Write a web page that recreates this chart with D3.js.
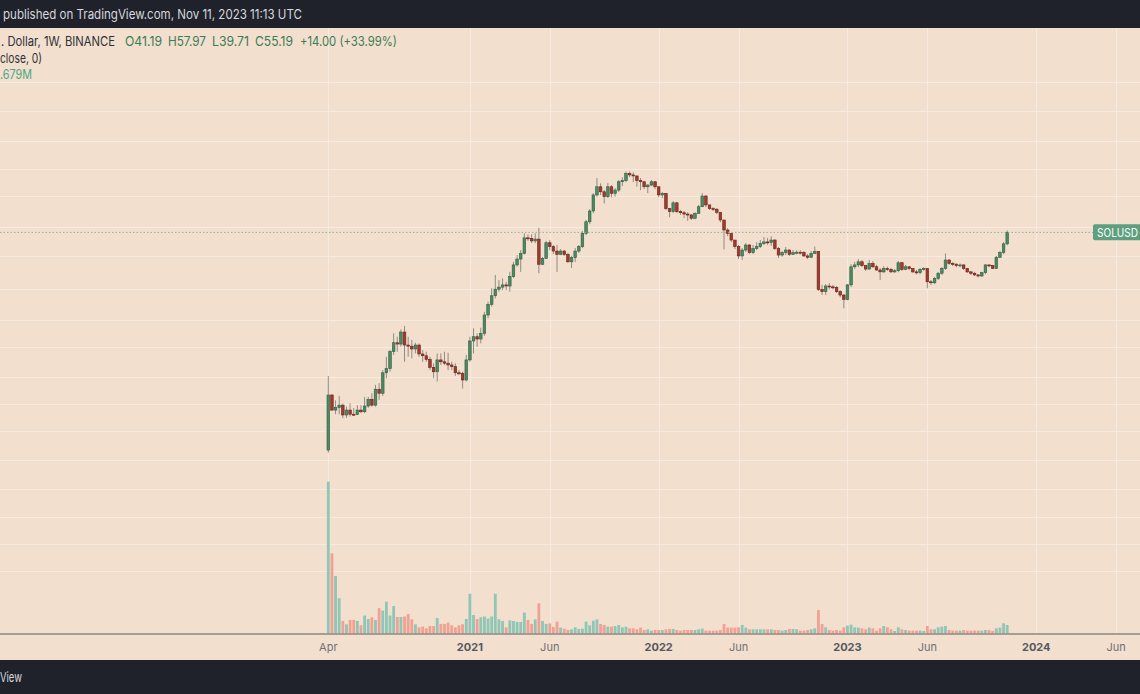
<!DOCTYPE html>
<html><head><meta charset="utf-8">
<script src="https://cdn.jsdelivr.net/npm/d3@7"></script>
<style>
html,body{margin:0;padding:0;background:#f2dfce;overflow:hidden}
svg{display:block}
text{font-family:Inter, Roboto, "Noto Sans", sans-serif}
</style></head><body>
<svg id="c" width="1140" height="694"></svg>
<script>
// ---------------- DATA ----------------
const startWeek = "2020-04-06";   // first weekly bar (Monday)
const firstOpen = 0.217;
const closes = [
0.88,0.60,0.64,0.68,0.53,0.60,0.54,0.535,0.60,0.575,
0.665,0.79,0.68,1.02,0.92,1.55,1.72,2.65,3.33,3.22,
4.37,3.14,3.05,2.84,3.14,2.50,2.39,2.18,1.78,1.59,
2.15,2.05,1.98,1.89,1.81,1.55,1.53,1.29,2.15,3.48,
3.88,3.66,4.23,6.74,8.85,11.0,13.0,13.7,14.5,14.1,
17.9,24.1,28,32.3,48.0,47.4,44.4,46.5,24.5,28.5,
42.4,38.4,34.3,31.5,34.3,31.5,26.1,29.0,34.3,38.4,
53.8,72.3,95,143,176,155,137,176,149,162,
200,206,246,238,232,206,200,176,184,200,
176,143,149,101,93.6,117,93.6,91,88,86,
79,89.5,106,139,111,101,99.5,92,75.6,58.6,
53.8,45.4,38.4,30.3,35.2,40,33,36.6,38.4,41.5,
43.3,42.6,45.4,36.6,31,33,35.2,31.5,33,33.3,
33,30.3,29.3,32.3,33.8,12.9,12.2,14.1,13.8,13.6,
12.2,11.2,10.0,14.5,23,24.1,26.1,23.7,21.7,25,
23,21.2,20.2,22,21.5,20.2,20.8,25.5,21.5,23,
22,20.2,19.8,21.5,22,15.7,15.3,17.1,19.5,22,
27.3,25,24.6,23.7,24.1,22,20.2,19.5,18.7,18.2,
19.8,24.1,23.7,22,29.3,33,41.19,55.19];
const highs = [
1.43,0.90,0.77,0.86,0.71,0.655,0.71,0.63,0.68,0.68,
0.84,0.84,0.92,1.14,1.19,1.66,2.33,2.77,4.23,3.88,
4.68,5.09,3.88,3.57,3.33,3.28,2.77,2.65,2.33,1.97,
2.54,2.54,2.65,2.58,2.05,1.97,1.66,1.59,2.44,3.88,
4.8,4.23,4.88,7.3,9.46,13.3,18.7,16.4,17.1,15.7,
20.2,26,31,35.2,53.8,52.5,52.5,53.8,62.0,29.6,
44.4,45.4,40,40,36,35.2,32.6,30.3,37,40,
57,75.6,100,150,220,192,162,194,184,170,
209,225,260,260,255,232,220,204,188,209,
204,176,154,149,102,122,120,97.5,95,92,
88,92,111,150,143,111,105,102,92,75.6,
61.5,53.8,45.4,40,37,42,41,40,43,45.4,
49,48,50,46.5,38,34.3,38,36,35.2,35,
35,34.3,31.7,34.3,38.4,34.3,14.5,14.8,15.2,14.5,
14.1,12.7,11.5,14.8,24.6,26,28,27.3,24.1,27.3,
26.6,24.1,22.3,23.4,23,22.3,21.7,26.6,26,24.1,
23.4,22.3,21.2,22.3,22.8,22.3,16.4,17.7,20.2,22.8,
32.3,28,26,25,25,24.6,22.3,20.7,20.2,19,
20.2,24.6,24.5,24.1,30.3,34.3,43,57.97];
const lows = [
0.203,0.59,0.54,0.54,0.49,0.49,0.51,0.52,0.53,0.555,
0.555,0.63,0.655,0.655,0.78,0.86,1.35,1.59,2.44,2.65,
3.01,2.05,2.33,2.24,2.54,2.33,2.05,2.05,1.66,1.35,
1.24,1.89,1.89,1.66,1.66,1.43,1.46,1.04,1.24,2.05,
2.54,3.01,3.28,3.97,6.2,8.34,10.3,12.2,12.7,12.7,
12.2,17.3,23,20.2,31.5,44.4,42,42,19.5,24.1,
28,35.2,31.7,20.2,31,30.3,25.5,22.3,26,32.6,
37,51.6,68,90,137,143,115,132,135,137,
154,179,198,225,198,176,162,166,150,179,
166,135,132,97.5,81,90,90,86,79,74,
75.6,77,88,105,105,97.5,95,88,71.5,35.8,
50,43,36,28,27.3,33.5,31.7,31.7,35.2,37,
40,40.3,39,35.2,28.8,29.6,31,30.3,31,31.5,
31.5,29.6,28,28.8,31.7,12.4,11.2,11.2,12.9,12.9,
11.8,10.6,8.0,9.8,13.7,21.7,22.8,22.8,20.7,21.2,
22.3,20.7,16.4,19.6,20.7,19.6,19.6,20,20.7,21.2,
21.2,19.6,19,19,20.7,13.3,14.5,14.8,16.4,18.7,
21.2,24.1,23.4,22.8,22.8,21.2,19.6,18.7,18.2,17.5,
17.7,19,22.8,21.7,21.7,28.8,31.7,39.71];
// weekly volume, millions
const volumes = [
30.7,16.2,11.6,7.1,2.5,1.82,2.7,2.7,2.5,1.62,
3.6,2.9,3.24,2.7,5.1,4.6,6.4,3.6,5.5,3.3,
3.3,3.4,3.9,2.83,1.82,1.21,1.35,1.0,1.48,1.48,
3.1,1.9,1.9,2.16,1.62,1.21,1.62,1.82,2.9,8.0,
3.7,2.9,3.24,3.4,3.0,3.4,8.0,2.83,2.5,1.21,
2.63,2.5,2.3,2.3,4.2,2.7,1.9,2.83,6.07,2.5,
1.9,2.0,1.28,2.36,1.15,0.94,0.67,0.8,1.21,0.88,
0.94,2.36,1.62,2.56,2.83,1.89,1.69,1.35,1.35,1.48,
1.69,1.21,1.35,1.01,1.01,0.81,1.15,0.67,0.81,0.54,
0.67,0.67,0.67,0.81,0.88,0.88,0.67,0.54,0.67,0.67,
0.67,0.67,0.81,0.94,0.54,0.54,0.54,0.54,0.67,1.89,
1.15,1.15,1.15,1.21,1.69,1.15,0.81,0.81,0.81,0.81,
0.81,0.81,0.81,0.67,0.67,0.54,0.67,0.88,0.88,0.81,
0.54,0.54,0.67,0.81,1.01,4.72,1.89,1.21,0.67,0.54,
0.67,0.54,1.21,1.55,1.75,1.21,1.15,1.01,0.81,1.15,
1.01,0.54,1.01,1.48,1.21,0.81,0.47,1.21,0.81,0.67,
0.54,0.54,0.54,0.54,0.47,1.48,0.81,0.81,1.21,1.35,
1.48,0.67,0.54,0.54,0.54,0.67,0.54,0.54,0.54,0.54,
0.54,0.67,0.67,0.47,1.01,1.15,2.02,1.679];
const tickDates  = ["2020-04-06","2021-01-04","2021-06-07","2022-01-03","2022-06-06","2023-01-02","2023-06-05","2024-01-01","2024-06-03"];
const tickLabels = ["Apr","2021","Jun","2022","Jun","2023","Jun","2024","Jun"];
const tickMajor  = [false,true,false,true,false,true,false,true,false];
const gridPrices = [2500,1200,560,280,140,64,30,13,6,3,1.4,0.7,0.35,0.17,0.08,0.04,0.02,0.01];
const lastPrice = 55.19;

// ---------------- CHART ----------------
const W = 1140, H = 694;
const svg = d3.select("#c");
const parse = d3.utcParse("%Y-%m-%d");
const d0 = parse(startWeek);
const bars = closes.map((c, i) => {
  const o = i === 0 ? firstOpen : closes[i - 1];
  return {date: d3.utcDay.offset(d0, 7 * i), o, c,
          h: Math.max(highs[i], o, c), l: Math.min(lows[i], o, c), v: volumes[i]};
});
const x = d3.scaleUtc().domain([d0, bars[bars.length - 1].date]).range([328.3, 1007.2]);
const y = d3.scaleLog().domain([1, 100]).range([390, 209]);
const yv = d3.scaleLinear().domain([0, 30.7]).range([633.3, 481.7]);

svg.append("rect").attr("width", W).attr("height", H).attr("fill", "#f2dfce");

// grid
const grid = svg.append("g").attr("stroke", "#f5ebe2").attr("stroke-width", 1);
grid.selectAll("line.h").data(gridPrices).join("line")
  .attr("x1", 0).attr("x2", W)
  .attr("y1", d => Math.round(y(d)) + 0.5).attr("y2", d => Math.round(y(d)) + 0.5);
grid.selectAll("line.v").data(tickDates).join("line")
  .attr("y1", 28).attr("y2", 633)
  .attr("x1", d => Math.round(x(parse(d))) + 0.5).attr("x2", d => Math.round(x(parse(d))) + 0.5);

// volume
svg.append("g").selectAll("rect").data(bars).join("rect")
  .attr("x", d => x(d.date) - 1.4).attr("width", 2.8)
  .attr("y", d => yv(d.v)).attr("height", d => yv(0) - yv(d.v))
  .attr("fill", d => d.c >= d.o ? "#8fc6b5" : "#f1a194");

// candles
const cg = svg.append("g");
cg.selectAll("line").data(bars).join("line")
  .attr("x1", d => x(d.date)).attr("x2", d => x(d.date))
  .attr("y1", d => y(d.h)).attr("y2", d => y(d.l))
  .attr("stroke", "#8f8c84").attr("stroke-width", 1);
cg.selectAll("rect").data(bars).join("rect")
  .attr("x", d => x(d.date) - 1.3).attr("width", 2.6)
  .attr("y", d => Math.min(y(d.o), y(d.c)))
  .attr("height", d => Math.max(1, Math.abs(y(d.o) - y(d.c))))
  .attr("fill", d => d.c >= d.o ? "#4b8a62" : "#a33a2e")
  .attr("stroke", d => d.c >= d.o ? "#2f5f42" : "#6d2119")
  .attr("stroke-width", 0.6);

// last price line and label
const yl = y(lastPrice);
svg.append("line").attr("x1", 0).attr("x2", 1093).attr("y1", yl).attr("y2", yl)
  .attr("stroke", "#8fae96").attr("stroke-width", 1).attr("stroke-dasharray", "1.5,2");
svg.append("rect").attr("x", 1093).attr("y", yl - 8).attr("width", 60).attr("height", 16).attr("rx", 2)
  .attr("fill", "#5e9f80");
svg.append("text").attr("x", 1097).attr("y", yl + 4.5).attr("font-size", 12)
  .attr("fill", "#ffffff").attr("textLength", 41).attr("lengthAdjust", "spacingAndGlyphs").text("SOLUSD");

// time axis
svg.append("line").attr("x1", 0).attr("x2", W).attr("y1", 634).attr("y2", 634)
  .attr("stroke", "#8c8782").attr("stroke-width", 1.5);
svg.append("g").selectAll("text").data(tickDates).join("text")
  .attr("x", d => x(parse(d))).attr("y", 651)
  .attr("text-anchor", "middle").attr("font-size", 11)
  .attr("font-weight", (d, i) => tickMajor[i] ? 700 : 400)
  .attr("fill", (d, i) => tickMajor[i] ? "#55585e" : "#6f7277")
  .text((d, i) => tickLabels[i]);

// top / bottom bars
svg.append("rect").attr("x", 0).attr("y", 0).attr("width", W).attr("height", 28).attr("fill", "#1f222b");
svg.append("text").attr("x", 3).attr("y", 19).attr("font-size", 13).attr("fill", "#d8d9dc")
  .attr("textLength", 299).attr("lengthAdjust", "spacingAndGlyphs")
  .text("published on TradingView.com, Nov 11, 2023 11:13 UTC");
svg.append("rect").attr("x", 0).attr("y", 660).attr("width", W).attr("height", 34).attr("fill", "#1f222b");
svg.append("text").attr("x", 0).attr("y", 682).attr("font-size", 13)
  .attr("fill", "#d8d9dc").attr("textLength", 22).attr("lengthAdjust", "spacingAndGlyphs").text("View");

// legend
const leg = [
  {t: ". Dollar, 1W, BINANCE", x: 1, w: 114, y: 46, c: "#2d3038"},
  {t: "O41.19", x: 125, w: 37, y: 46, c: "#3c7b56"},
  {t: "H57.97", x: 168, w: 38, y: 46, c: "#3c7b56"},
  {t: "L39.71", x: 212, w: 37, y: 46, c: "#3c7b56"},
  {t: "C55.19", x: 255, w: 38, y: 46, c: "#3c7b56"},
  {t: "+14.00 (+33.99%)", x: 300, w: 97, y: 46, c: "#3c7b56"},
  {t: "close, 0)", x: 0, w: 42, y: 62.5, c: "#2d3038"},
  {t: ".679M", x: 0, w: 32, y: 78.5, c: "#4aa886"}
];
svg.append("g").selectAll("text").data(leg).join("text")
  .attr("x", d => d.x).attr("y", d => d.y).attr("font-size", 13).attr("fill", d => d.c)
  .attr("textLength", d => d.w).attr("lengthAdjust", "spacingAndGlyphs").text(d => d.t);
</script>
</body></html>
